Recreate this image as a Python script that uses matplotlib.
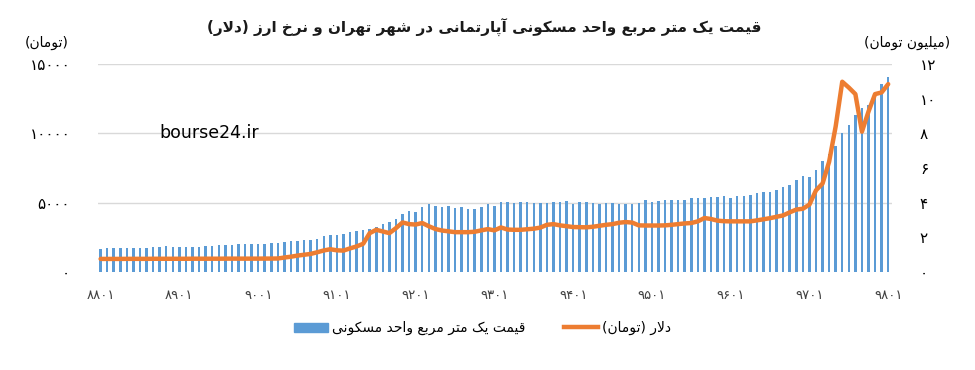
import matplotlib
matplotlib.use("Agg")
import matplotlib.pyplot as plt
from matplotlib.patches import Patch
from matplotlib.lines import Line2D
import numpy as np

plt.rcParams['font.family'] = ['DejaVu Sans']

# price of one square metre of housing in Tehran (million toman), monthly 8801..9801
apt_price = [
    1.31, 1.38, 1.40, 1.38, 1.36, 1.38, 1.38, 1.40, 1.46, 1.46, 1.50, 1.46,
    1.44, 1.46, 1.44, 1.46, 1.50, 1.50, 1.53, 1.53, 1.57, 1.59, 1.63,
    1.59, 1.63, 1.63, 1.65, 1.69, 1.72, 1.76, 1.78, 1.82, 1.84, 1.91, 2.06,
    2.12, 2.16, 2.20, 2.31, 2.39, 2.44, 2.48, 2.60, 2.77, 2.90, 3.07, 3.33, 3.52,
    3.48, 3.73, 3.92, 3.81, 3.77, 3.81, 3.67, 3.73, 3.64, 3.64, 3.77, 3.92,
    3.81, 4.02, 4.05, 3.99, 4.02, 4.02, 3.96, 3.96, 3.99, 4.02, 4.02,
    4.09, 3.92, 4.02, 4.02, 4.00, 3.90, 3.96, 3.96, 3.92, 3.90, 3.92, 3.96,
    4.15, 4.05, 4.11, 4.15, 4.15, 4.15, 4.15, 4.24, 4.24,
    4.24, 4.34, 4.34, 4.38, 4.24, 4.38, 4.38, 4.43, 4.53, 4.60, 4.60, 4.72,
    4.90, 5.04, 5.32, 5.51, 5.47, 5.89, 6.38, 6.80, 7.27, 8.03, 8.50, 9.07,
    9.45, 9.64, 10.11, 10.87, 11.25,
]

# dollar rate (toman)
dollar = [
    940, 940, 940, 940, 945, 945, 945, 945, 950, 950, 950, 950,
    950, 950, 955, 955, 955, 955, 955, 960, 960, 960, 960, 960,
    960, 965, 965, 970,
    1040, 1100, 1180, 1240, 1300, 1420, 1550, 1640, 1560, 1540, 1700, 1840,
    2030, 2800, 3040, 2920, 2800, 3160, 3570, 3450,
    3420, 3530, 3300, 3100, 2990, 2930, 2870, 2870, 2870, 2900, 3000, 3090,
    3000, 3210, 3060, 3040, 3040, 3080, 3120, 3200, 3400, 3450, 3360,
    3300, 3240, 3230, 3220, 3260, 3330, 3400, 3450, 3550, 3600, 3560,
    3360, 3350, 3350, 3350, 3360, 3400, 3450, 3500, 3530, 3650,
    3890, 3820, 3700, 3660, 3650, 3650, 3650, 3650, 3720, 3800, 3880, 3980,
    4080, 4300, 4500, 4560, 4860, 5890, 6380, 7950, 10500, 13720, 13300, 12830,
    10120, 11570, 12830, 12950, 13550,
]

year_labels = ['8801', '8901', '9001', '9101', '9201', '9301',
               '9401', '9501', '9601', '9701', '9801']
left_ticks = [0, 5000, 10000, 15000]
right_ticks = [0, 2, 4, 6, 8, 10, 12]

title = 'قیمت یک متر مربع واحد مسکونی آپارتمانی در شهر تهران و نرخ ارز (دلار)'
left_unit = '(تومان)'
right_unit = '(میلیون تومان)'
bar_label = 'قیمت یک متر مربع واحد مسکونی'
line_label = 'دلار (تومان)'

# --- minimal persian shaping (matplotlib has no bidi / joining) ---
FORMS = {
    'ا': (0xFE8D, 0xFE8E, None, None),
    'آ': (0xFE81, 0xFE82, None, None),
    'ب': (0xFE8F, 0xFE90, 0xFE91, 0xFE92),
    'پ': (0xFB56, 0xFB57, 0xFB58, 0xFB59),
    'ت': (0xFE95, 0xFE96, 0xFE97, 0xFE98),
    'ح': (0xFEA1, 0xFEA2, 0xFEA3, 0xFEA4),
    'خ': (0xFEA5, 0xFEA6, 0xFEA7, 0xFEA8),
    'د': (0xFEA9, 0xFEAA, None, None),
    'ر': (0xFEAD, 0xFEAE, None, None),
    'ز': (0xFEAF, 0xFEB0, None, None),
    'س': (0xFEB1, 0xFEB2, 0xFEB3, 0xFEB4),
    'ش': (0xFEB5, 0xFEB6, 0xFEB7, 0xFEB8),
    'ع': (0xFEC9, 0xFECA, 0xFECB, 0xFECC),
    'ق': (0xFED5, 0xFED6, 0xFED7, 0xFED8),
    'ک': (0xFB8E, 0xFB8F, 0xFB90, 0xFB91),
    'ل': (0xFEDD, 0xFEDE, 0xFEDF, 0xFEE0),
    'م': (0xFEE1, 0xFEE2, 0xFEE3, 0xFEE4),
    'ن': (0xFEE5, 0xFEE6, 0xFEE7, 0xFEE8),
    'ه': (0xFEE9, 0xFEEA, 0xFEEB, 0xFEEC),
    'و': (0xFEED, 0xFEEE, None, None),
    'ی': (0xFBFC, 0xFBFD, 0xFBFE, 0xFBFF),
}
LAM_ALEF = {'ا': (0xFEFB, 0xFEFC), 'آ': (0xFEF5, 0xFEF6)}


def fa(s):
    out = []
    k = 0
    while k < len(s):
        c = s[k]
        if c not in FORMS:
            out.append(c)
            k += 1
            continue
        prev = s[k-1] if k > 0 else ''
        nxt = s[k+1] if k+1 < len(s) else ''
        can_prev = prev in FORMS and FORMS[prev][2] is not None
        if c == 'ل' and nxt in LAM_ALEF:
            out.append(chr(LAM_ALEF[nxt][1] if can_prev else LAM_ALEF[nxt][0]))
            k += 2
            continue
        f = FORMS[c]
        can_next = f[2] is not None and nxt in FORMS
        if can_prev and can_next:
            g = f[3]
        elif can_prev:
            g = f[1]
        elif can_next:
            g = f[2]
        else:
            g = f[0]
        out.append(chr(g))
        k += 1
    vis = ''.join(reversed(out))
    return vis.translate(str.maketrans('()', ')('))


def fa_num(v):
    return str(v).translate(str.maketrans('0123456789', '۰۱۲۳۴۵۶۷۸۹'))


blue = '#5B9BD5'
orange = '#ED7D31'
txt = '#404040'

x = np.arange(len(apt_price))

fig = plt.figure(figsize=(9.75, 3.7), dpi=100)
ax = fig.add_axes([0.1005, 0.265, 0.8145, 0.562])
ax2 = ax.twinx()

# bars: million toman (right scale)
for g in (4, 8, 12):
    ax.axhline(g, color='#D9D9D9', lw=1, zorder=0)
ax.bar(x, apt_price, width=0.38, color=blue, zorder=2)
ax.set_ylim(0, 12)
ax.set_xlim(-0.4, 120.6)
ax.yaxis.tick_right()
ax.set_yticks(right_ticks)
ax.set_yticklabels([fa_num(v) for v in right_ticks], fontsize=11, color='black')
ax.tick_params(axis='y', length=0, pad=20)
for lab in ax.get_yticklabels():
    lab.set_horizontalalignment('left')

# line: toman (left scale)
ax2.plot(x, dollar, color=orange, lw=3.2, solid_capstyle='round', zorder=3)
ax2.set_ylim(0, 15000)
ax2.yaxis.tick_left()
ax2.set_yticks(left_ticks)
ax2.set_yticklabels([fa_num(v) for v in left_ticks], fontsize=11, color='black')
ax2.tick_params(axis='y', length=0, pad=20)

ax.set_xticks(x[::12])
ax.set_xticklabels([fa_num(s) for s in year_labels], fontsize=9.5, color=txt)
ax.tick_params(axis='x', length=0, pad=12)

for a in (ax, ax2):
    for sp in a.spines.values():
        sp.set_visible(False)

fig.text(0.497, 0.925, fa(title), ha='center', va='center', fontsize=11,
         fontweight='bold', color='#1a1a1a')
fig.text(0.048, 0.885, fa(left_unit), ha='center', va='center', fontsize=10)
fig.text(0.930, 0.885, fa(right_unit), ha='center', va='center', fontsize=10)
fig.text(0.163, 0.64, 'bourse24.ir', ha='left', va='center', fontsize=12.5,
         color='black')

handles = [Patch(color=blue), Line2D([0], [0], color=orange, lw=3.2)]
fig.legend(handles, [fa(bar_label), fa(line_label)], loc='center',
           bbox_to_anchor=(0.495, 0.113), ncol=2, frameon=False, fontsize=10,
           handlelength=2.4, handleheight=0.6, columnspacing=2.8,
           handletextpad=0.3)

fig.savefig('out.png', dpi=100)
